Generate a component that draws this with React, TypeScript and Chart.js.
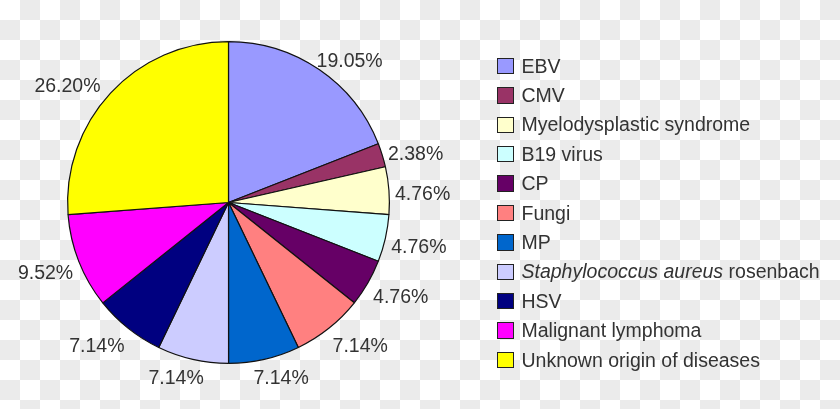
import { useEffect, useRef } from "react"
import { Chart, registerables } from "chart.js"

Chart.register(...registerables)

// Data
const categories = [
  "EBV",
  "CMV",
  "Myelodysplastic syndrome",
  "B19 virus",
  "CP",
  "Fungi",
  "MP",
  "Staphylococcus aureus rosenbach",
  "HSV",
  "Malignant lymphoma",
  "Unknown origin of diseases",
]
const shares = [19.05, 2.38, 4.76, 4.76, 4.76, 7.14, 7.14, 7.14, 7.14, 9.52, 26.2]
const colors = [
  "#9999ff",
  "#993366",
  "#ffffcc",
  "#ccffff",
  "#660066",
  "#ff8080",
  "#0066cc",
  "#ccccff",
  "#000080",
  "#ff00ff",
  "#ffff00",
]
const italicTerms = ["Staphylococcus aureus"]

const FONT = "'Liberation Sans', Arial, sans-serif"
const TEXT_COLOR = "#333"

// the reference sits on a transparency checkerboard
const checkerboard = {
  id: "checkerboard",
  beforeDraw(chart: any) {
    const { ctx, width, height } = chart
    const cell = 20
    ctx.save()
    ctx.fillStyle = "#ffffff"
    ctx.fillRect(0, 0, width, height)
    ctx.fillStyle = "#ebebeb"
    for (let r = 0; r * cell < height; r++) {
      for (let c = 0; c * cell < width; c++) {
        if ((r + c) % 2 === 1) ctx.fillRect(c * cell, r * cell, cell, cell)
      }
    }
    ctx.restore()
  },
}

// draws the percentage next to each slice, pushed out along the slice's middle
const pctLabels = {
  id: "pctLabels",
  afterDatasetsDraw(chart: any) {
    const ctx = chart.ctx
    const meta = chart.getDatasetMeta(0)
    const clamp = (v: number, k: number) => Math.max(-1, Math.min(1, v * k))
    ctx.save()
    ctx.font = `19.5px ${FONT}`
    ctx.fillStyle = TEXT_COLOR
    ctx.textAlign = "center"
    ctx.textBaseline = "middle"
    meta.data.forEach((arc: any, i: number) => {
      const { x, y, startAngle, endAngle, outerRadius } = arc.getProps(
        ["x", "y", "startAngle", "endAngle", "outerRadius"],
        true
      )
      const mid = (startAngle + endAngle) / 2
      const dx = Math.cos(mid)
      const dy = Math.sin(mid)
      const text = shares[i].toFixed(2) + "%"
      const w = ctx.measureText(text).width
      const d = outerRadius + 6
      // labels high above the centre are nudged a little to the left
      const nudge = -6 * Math.max(0, Math.min(1, (-dy - 0.4) / 0.3))
      const tx = x + d * dx + (w / 2) * clamp(dx, 2.5) + nudge
      const ty = y + d * dy + 8 * clamp(dy, 1.6) + 5.5
      ctx.fillText(text, tx, ty)
    })
    ctx.restore()
  },
}

function LegendLabel({ text }: { text: string }) {
  const term = italicTerms.find((t) => text.startsWith(t))
  if (!term) return <span>{text}</span>
  return (
    <span>
      <i>{term}</i>
      {text.slice(term.length)}
    </span>
  )
}

export default function App() {
  const chartRef = useRef<HTMLCanvasElement>(null)
  const chartInstance = useRef<Chart | null>(null)

  useEffect(() => {
    if (!chartRef.current) return
    if (chartInstance.current) chartInstance.current.destroy()
    const ctx = chartRef.current.getContext("2d")
    if (!ctx) return

    chartInstance.current = new Chart(ctx, {
      type: "pie",
      data: {
        labels: categories,
        datasets: [
          {
            data: shares,
            backgroundColor: colors,
            borderColor: "#111",
            borderWidth: 1.2,
          },
        ],
      },
      options: {
        responsive: false,
        animation: false,
        layout: { padding: { left: 67, right: 450, top: 41, bottom: 45 } },
        plugins: {
          legend: { display: false },
          tooltip: { enabled: false },
        },
      },
      plugins: [checkerboard, pctLabels],
    })

    return () => {
      if (chartInstance.current) {
        chartInstance.current.destroy()
        chartInstance.current = null
      }
    }
  }, [])

  return (
    <div
      style={{
        position: "fixed",
        left: 0,
        top: 0,
        width: 840,
        height: 409,
        fontFamily: FONT,
      }}
    >
      <canvas ref={chartRef} width={840} height={409} style={{ position: "absolute", left: 0, top: 0 }} />
      {categories.map((c, i) => (
        <div
          key={c}
          style={{
            position: "absolute",
            left: 497,
            top: 54 + i * 29.4,
            height: 24,
            display: "flex",
            alignItems: "center",
            whiteSpace: "nowrap",
            fontSize: 19.5,
            color: TEXT_COLOR,
          }}
        >
          <span
            style={{
              width: 16.5,
              height: 16.5,
              boxSizing: "border-box",
              border: "1.5px solid #222",
              background: colors[i],
              marginRight: 8,
              flex: "none",
            }}
          />
          <LegendLabel text={c} />
        </div>
      ))}
    </div>
  )
}
